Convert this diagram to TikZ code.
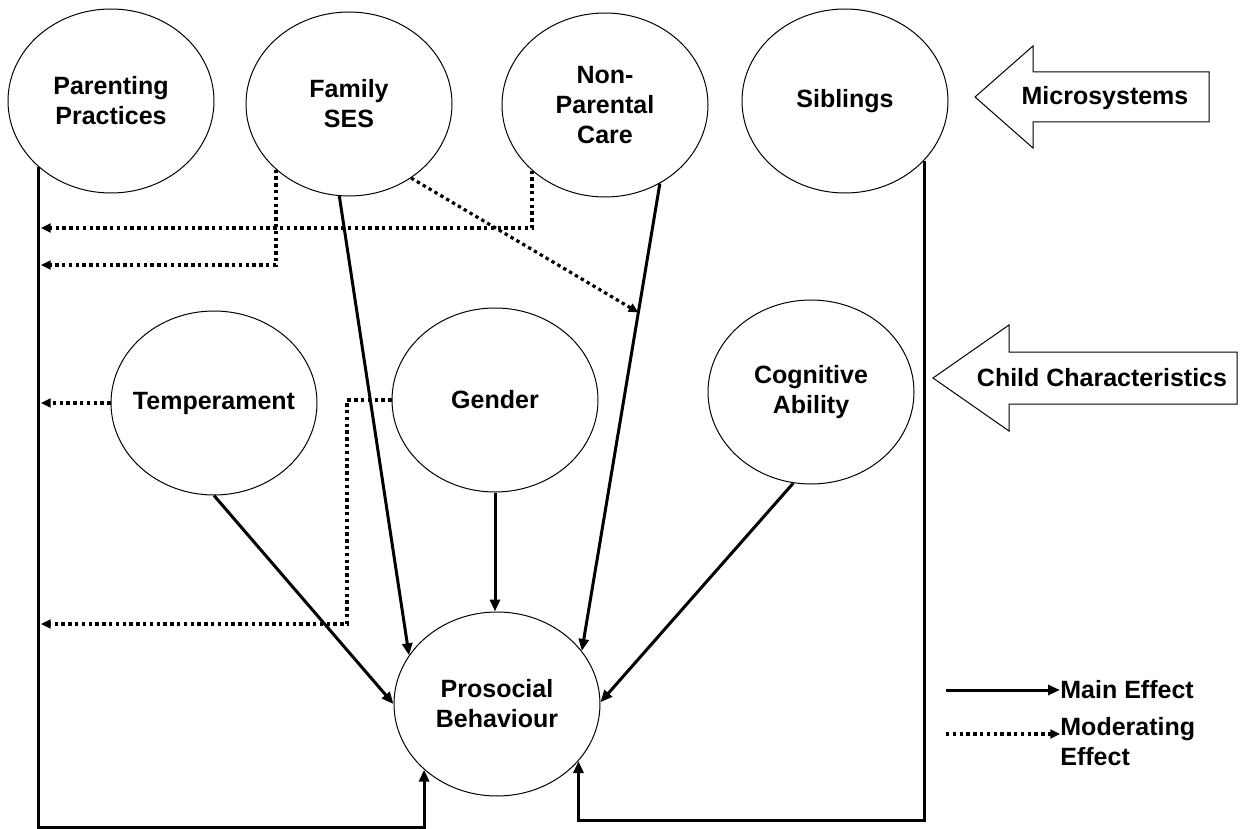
\documentclass[tikz,border=0pt]{standalone}
\usepackage{fontspec}
\setmainfont{Liberation Sans}
\usepackage{tikz}
\usetikzlibrary{calc,arrows.meta,shapes.geometric}

\begin{document}
\begin{tikzpicture}[x=0.5pt,y=-0.5pt,
	oval/.style={draw,ellipse,line width=0.5pt,minimum width=103pt,minimum height=92pt,inner xsep=-10pt,inner ysep=0pt,align=center,font=\fontsize{12.5}{15}\selectfont\bfseries},
	main/.style={line width=1.5pt,-{Triangle[length=6pt,width=5pt]}},
	mod/.style={line width=1.6pt,dash pattern=on 1.7pt off 1.7pt,-{Triangle[length=4.8pt,width=4.4pt]}},
	blk/.style={draw,line width=0.5pt},
	lab/.style={align=left,inner sep=0pt,font=\fontsize{12.5}{15}\selectfont\bfseries}]
	\useasboundingbox (0,0) rectangle (1249,829);
	
	%microsystems
	\node[oval] (pp) at (111,101) {Parenting\\Practices};
	\node[oval] (fs) at (349,104) {Family\\SES};
	\node[oval] (npc) at (605,105) {Non-\\Parental\\Care};
	\node[oval] (sib) at (845,101) {Siblings};
	%child characteristics
	\node[oval] (temp) at (214,403) {Temperament};
	\node[oval] (gen) at (495,400) {Gender};
	\node[oval] (cog) at (811,392) {Cognitive\\Ability};
	%outcome
	\node[oval] (pro) at (497,704) {Prosocial\\Behaviour};
	
	%block arrows
	\foreach \nm/\tp/\ty/\hl/\hh/\bh/\rx/\tx/\txt in {micro/975/97/58/51/25/1209/1105/Microsystems, child/933/378/76/53/26/1237/1102/Child Characteristics}{
		\draw[blk] (\tp,\ty) -- ++(\hl,-\hh) -- ++(0,\hh-\bh) -- (\rx,\ty-\bh) -- (\rx,\ty+\bh) -- (\tp+\hl,\ty+\bh) -- ++(0,\hh-\bh) -- cycle;
		\node[lab,anchor=base] (\nm) at (\tx,\ty+8) {\txt};
	}
	
	%free ends on the left line
	\coordinate (a1) at (41,228);
	\coordinate (a2) at (41,265);
	\coordinate (a3) at (41,403);
	\coordinate (a4) at (41,624);
	\coordinate (gb) at (347,624);
	\coordinate (bl) at (39,827);
	\coordinate (br) at (924,820);
	\coordinate (hit) at ($(npc.305)!0.276!(pro.32)$);
	
	%main effects
	\draw[main] (fs.264) -- (pro.151);
	\draw[main] (npc.305) -- (pro.32);
	\draw[main] (gen.south) -- (gen.south |- pro.north);
	\draw[main] (temp.south) -- (pro.west);
	\draw[main] (cog.259) -- (pro.1);
	\draw[main] (pp.222) -- (pp.222 |- bl) -| (pro.222);
	\draw[main] (sib.323) -- (sib.323 |- br) -| (pro.325);
	
	%moderating effects
	\draw[mod] (npc.222) |- (a1);
	\draw[mod] (fs.222) |- (a2);
	\draw[mod] (temp.west) -- (a3);
	\draw[mod] (gen.west) -| (gb) -- (a4);
	\draw[mod] (fs.310) -- (hit);
	
	%legend
	\coordinate (k1) at (946,690);
	\coordinate (k2) at (946,734);
	\node[lab,anchor=west] (kmain) at (1060,690) {Main Effect};
	\node[lab,anchor=north west] (kmod) at (1060,717) {Moderating\\Effect};
	\draw[main] (k1) -- (k1 -| kmain.west);
	\draw[mod] (k2) -- (k2 -| kmod.west);
\end{tikzpicture}
\end{document}
